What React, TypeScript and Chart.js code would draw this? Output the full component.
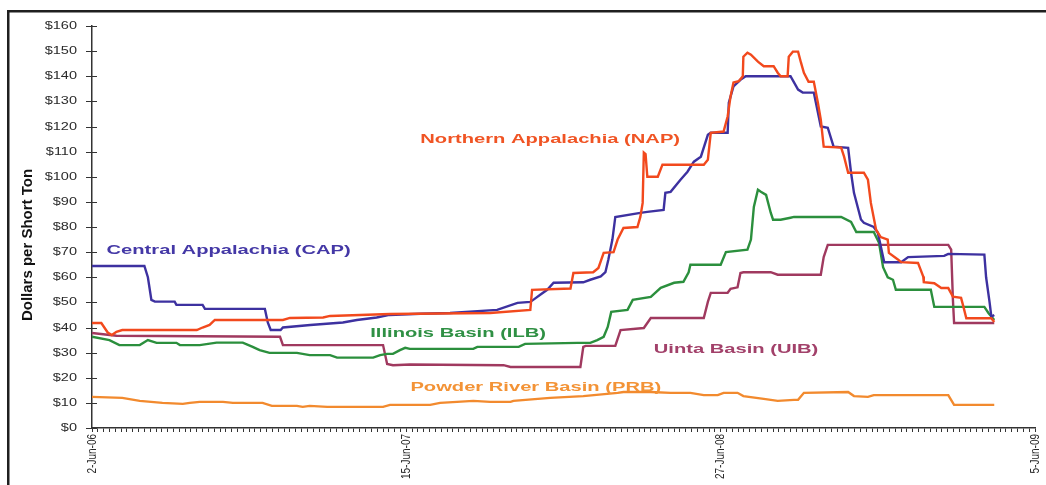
import React, { useEffect, useRef } from "react";
import { Chart, registerables } from "chart.js";

Chart.register(...registerables);

// ---- axis labels ----
const xTickLabels = ["2-Jun-06", "15-Jun-07", "27-Jun-08", "5-Jun-09"];
const xTickWeeks = [0, 54, 108, 162];
const xWeekCount = 163;
const yTickValues = [0, 10, 20, 30, 40, 50, 60, 70, 80, 90, 100, 110, 120, 130, 140, 150, 160];
const yTickLabels = ["$0", "$10", "$20", "$30", "$40", "$50", "$60", "$70", "$80", "$90", "$100", "$110", "$120", "$130", "$140", "$150", "$160"];
const yAxisTitle = "Dollars per Short Ton";

// ---- series (x = weeks since 2-Jun-06, y = $/short ton) ----
const capX = [0, 9.0, 9.6, 10.2, 10.8, 14.2, 14.5, 19.0, 19.4, 29.7, 30.2, 30.7, 32.4, 32.8, 37.5, 43.1, 45.5, 48.9, 51.1, 56.4, 61.5, 69.6, 73.1, 75.3, 75.8, 77.0, 78.2, 79.3, 84.4, 85.6, 87.4, 88.2, 88.7, 89.4, 89.9, 94.2, 95.4, 98.2, 98.5, 99.4, 101.1, 102.3, 103.4, 104.6, 105.8, 106.3, 109.2, 109.4, 110.2, 111.4, 112.3, 120.0, 121.3, 122.1, 124.0, 125.2, 126.4, 127.4, 129.9, 130.4, 130.9, 132.1, 132.6, 134.3, 135.0, 136.1, 139.0, 140.2, 146.4, 147.1, 153.3, 153.6, 154.2, 154.5, 155.0];
const capY = [64.5, 64.5, 60, 51, 50.3, 50.3, 49, 49, 47.4, 47.4, 42, 39, 39, 40, 41, 42, 43, 44, 45, 45.5, 45.8, 47, 49.8, 50.2, 51, 53, 55, 57.8, 58, 59, 60.3, 62, 67, 75, 84, 85.6, 86, 86.8, 93.6, 94, 98.8, 102, 106, 108, 116.7, 117.5, 117.5, 129.5, 136, 138.6, 140, 140, 134.7, 133.5, 133.5, 120, 119.5, 112, 111.5, 101.6, 93.6, 83, 81.7, 80, 77.7, 66, 66, 68, 68.5, 69.3, 69, 60, 50, 44.3, 45];

const napX = [0, 1.6, 2.7, 3.4, 4.2, 5.2, 18.0, 19.0, 20.2, 21.1, 32.8, 34.0, 39.7, 40.9, 51.2, 68.4, 75.3, 75.6, 82.2, 82.7, 86.1, 87.0, 87.9, 89.6, 90.3, 91.3, 93.7, 94.2, 94.6, 94.8, 95.1, 95.4, 97.2, 98.0, 105.1, 105.8, 106.3, 108.5, 109.2, 109.7, 110.2, 111.1, 111.8, 111.9, 112.6, 113.2, 114.4, 115.4, 117.1, 117.8, 118.3, 119.5, 119.7, 120.4, 121.3, 121.8, 122.3, 123.1, 124.0, 124.7, 125.2, 125.7, 128.7, 129.2, 129.9, 132.6, 133.3, 133.8, 134.7, 135.5, 136.7, 136.9, 138.5, 139.0, 141.9, 142.8, 142.9, 144.7, 145.9, 147.1, 147.9, 149.3, 149.7, 150.2, 154.5, 155.0];
const napY = [41.8, 41.8, 38, 37, 38.3, 39, 39, 40, 41, 43, 43, 43.8, 44, 44.6, 45.4, 45.8, 47, 55, 55.5, 61.7, 62, 63.7, 69.7, 70, 75, 79.6, 80, 84, 89.6, 109.6, 109, 100, 100, 104.8, 104.8, 106.8, 117.5, 118, 124, 132, 137.5, 138, 140, 147.8, 149.4, 148.6, 145.8, 144, 144, 141.4, 140, 140, 147.8, 149.8, 149.8, 145.4, 141.4, 137.8, 137.8, 129.5, 122.7, 112, 111.6, 108, 101.6, 101.6, 98.8, 89.6, 78.9, 76, 75, 69.7, 67, 66, 65.7, 60.3, 58, 57.6, 55.7, 55.7, 52.3, 51.8, 48.3, 43.7, 43.7, 42.2];

const ilbX = [0, 3.0, 4.7, 8.2, 9.6, 11.1, 14.5, 15.1, 18.5, 21.4, 25.9, 27.6, 28.8, 30.5, 35.2, 37.4, 40.9, 42.1, 48.3, 49.5, 50.7, 51.7, 52.9, 53.8, 54.6, 65.5, 66.2, 73.3, 74.4, 83.4, 85.6, 86.8, 87.9, 88.6, 89.2, 92.0, 92.9, 96.0, 97.7, 100.0, 101.6, 102.5, 102.8, 108.0, 108.9, 112.6, 113.2, 113.7, 114.4, 114.9, 115.8, 116.6, 117.0, 118.3, 120.0, 120.6, 128.7, 130.4, 131.3, 134.3, 135.2, 135.9, 136.7, 137.6, 138.1, 144.1, 144.7, 153.3, 154.0, 155.0];
const ilbY = [36.3, 35, 33, 33, 35, 33.9, 33.9, 33, 33, 34, 34, 32.3, 31, 29.9, 29.9, 29, 29, 28, 28, 29, 29.5, 29.5, 31, 31.9, 31.5, 31.5, 32.3, 32.3, 33.5, 33.9, 33.9, 35, 36.3, 40.2, 46.2, 47, 51, 52.2, 55.8, 57.8, 58.2, 62, 65, 65, 70, 71, 75, 88, 94.8, 94, 92.8, 85.7, 82.9, 82.9, 83.7, 84, 84, 82, 78, 78, 73.7, 64, 60, 59, 55, 55, 48.2, 48.2, 45.8, 43];

const uibX = [0, 4.2, 32.3, 32.8, 50.0, 50.7, 51.7, 54.6, 70.7, 71.9, 83.9, 84.4, 84.8, 89.9, 90.8, 94.8, 96.0, 105.1, 105.8, 106.3, 109.2, 109.7, 110.9, 111.4, 111.9, 116.6, 117.8, 125.2, 125.7, 126.4, 147.1, 147.6, 147.9, 148.1, 155.0];
const uibY = [37.8, 36.7, 36.3, 33, 33, 25.5, 25, 25.3, 25, 24.3, 24.3, 32.3, 32.7, 32.7, 39, 39.8, 43.8, 43.8, 50.2, 53.8, 53.8, 55.4, 56, 61.7, 62, 62, 61, 61, 68, 72.9, 72.9, 71, 51, 41.8, 41.8];

const prbX = [0, 5.2, 8.2, 12.1, 15.6, 16.8, 18.5, 22.5, 24.2, 29.3, 30.9, 35.2, 36.2, 37.4, 40.4, 50.0, 51.2, 58.1, 59.8, 62.7, 65.5, 68.4, 71.9, 72.4, 78.7, 84.4, 90.3, 91.3, 96.0, 99.4, 102.8, 105.1, 107.5, 108.5, 110.9, 111.9, 115.4, 117.8, 120.6, 121.3, 122.3, 129.9, 130.9, 133.3, 134.3, 147.1, 148.1, 155.0];
const prbY = [12.4, 12, 10.8, 10, 9.6, 10, 10.4, 10.4, 10, 10, 8.8, 8.8, 8.4, 8.8, 8.4, 8.4, 9.2, 9.2, 10, 10.4, 10.8, 10.4, 10.4, 10.8, 12, 12.7, 14, 14.3, 14.3, 14, 14, 13.1, 13.1, 14, 14, 12.7, 11.6, 10.8, 11.2, 11.2, 14, 14.3, 12.7, 12.4, 13.1, 13.1, 9.2, 9.2];

const seriesNames = ["Northern Appalachia (NAP)", "Central Appalachia (CAP)", "Illinois Basin (ILB)", "Uinta Basin (UIB)", "Powder River Basin (PRB)"];

// ---- styling ----
const seriesColors = ["#f2491d", "#3d31a0", "#2b8f3d", "#a0395f", "#f28a2e"];
const labelColors = ["#f05424", "#4438a6", "#2f9044", "#a2416a", "#f39336"];
// label anchors (left-middle) in data units: [week, dollars]
const labelAnchors = [
  [56.4, 114.7],
  [2.5, 70.5],
  [47.8, 37.5],
  [96.5, 31.1],
  [54.7, 16.3],
];

const FONT = '"Liberation Sans", Arial, Helvetica, sans-serif';

const decorPlugin = {
  id: "decor",
  beforeDraw(chart: any) {
    const ctx = chart.ctx;
    ctx.save();
    ctx.fillStyle = "#ffffff";
    ctx.fillRect(0, 0, chart.width, chart.height);
    ctx.fillStyle = "#1f1f1f";
    ctx.fillRect(7, 10, chart.width - 7, 2.5);
    ctx.fillRect(7, 10, 2.5, chart.height - 10);
    ctx.restore();
  },
  afterDraw(chart: any) {
    const ctx = chart.ctx;
    const x = chart.scales.x;
    const y = chart.scales.y;
    ctx.save();
    // y ticks (cross) and labels
    ctx.strokeStyle = "#333";
    ctx.lineWidth = 1;
    yTickValues.forEach((v, i) => {
      const py = Math.round(y.getPixelForValue(v)) + 0.5;
      ctx.beginPath();
      ctx.moveTo(x.left - 6, py);
      ctx.lineTo(x.left + 5, py);
      ctx.stroke();
      ctx.save();
      ctx.translate(x.left - 15, py);
      ctx.scale(1.45, 1);
      ctx.font = "10px " + FONT;
      ctx.textAlign = "right";
      ctx.textBaseline = "middle";
      ctx.fillStyle = "#2a2a2a";
      ctx.fillText(yTickLabels[i], 0, 0);
      ctx.restore();
    });
    // x tick labels (rotated, reading upward)
    xTickWeeks.forEach((w, i) => {
      const px = x.getPixelForValue(w);
      ctx.save();
      ctx.translate(px, y.bottom + 6);
      ctx.rotate(-Math.PI / 2);
      ctx.scale(1, 1.35);
      ctx.font = "10px " + FONT;
      ctx.textAlign = "right";
      ctx.textBaseline = "middle";
      ctx.fillStyle = "#2a2a2a";
      ctx.fillText(xTickLabels[i], 0, 0);
      ctx.restore();
    });
    // y axis title
    ctx.save();
    ctx.translate(28, 245);
    ctx.rotate(-Math.PI / 2);
    ctx.font = "bold 15px " + FONT;
    ctx.textAlign = "center";
    ctx.textBaseline = "middle";
    ctx.fillStyle = "#111";
    ctx.fillText(yAxisTitle, 0, 0);
    ctx.restore();
    // series labels
    seriesNames.forEach((name, i) => {
      const px = x.getPixelForValue(labelAnchors[i][0]);
      const py = y.getPixelForValue(labelAnchors[i][1]);
      ctx.save();
      ctx.translate(px, py);
      ctx.scale(1.55, 1);
      ctx.font = "bold 13px " + FONT;
      ctx.textAlign = "left";
      ctx.textBaseline = "middle";
      ctx.fillStyle = labelColors[i];
      ctx.fillText(name, 0, 0);
      ctx.restore();
    });
    ctx.restore();
  },
};

const toPoints = (xs: number[], ys: number[]) => xs.map((v, i) => ({ x: v, y: ys[i] }));

export default function App() {
  const ref = useRef<HTMLCanvasElement>(null);
  useEffect(() => {
    const seriesData = [
      toPoints(napX, napY),
      toPoints(capX, capY),
      toPoints(ilbX, ilbY),
      toPoints(uibX, uibY),
      toPoints(prbX, prbY),
    ];
    const chart = new Chart(ref.current as HTMLCanvasElement, {
      type: "line",
      data: {
        datasets: seriesNames.map((name, i) => ({
          label: name,
          data: seriesData[i],
          borderColor: seriesColors[i],
          backgroundColor: seriesColors[i],
          borderWidth: 2.4,
          pointRadius: 0,
          tension: 0,
          fill: false,
        })),
      },
      options: {
        responsive: false,
        devicePixelRatio: 1,
        animation: false,
        layout: { padding: { top: 26, right: 11, left: 0, bottom: 0 } },
        plugins: {
          legend: { display: false },
          tooltip: { enabled: false },
        },
        scales: {
          x: {
            type: "linear",
            min: 0,
            max: xWeekCount - 1,
            afterBuildTicks: (s: any) => {
              s.ticks = Array.from({ length: xWeekCount }, (_, i) => ({ value: i }));
            },
            afterFit: (s: any) => {
              s.height = 57;
            },
            ticks: {
              display: false,
              autoSkip: false,
            },
            grid: {
              display: true,
              drawOnChartArea: false,
              drawTicks: true,
              tickLength: 4,
              color: "#333",
              lineWidth: 1,
            },
            border: { display: true, color: "#333", width: 1.5 },
          },
          y: {
            type: "linear",
            min: 0,
            max: 160,
            afterFit: (s: any) => {
              s.width = 92;
            },
            ticks: { display: false, stepSize: 10 },
            grid: { display: true, drawOnChartArea: false, drawTicks: false },
            border: { display: true, color: "#333", width: 1.5 },
          },
        },
      },
      plugins: [decorPlugin],
    } as any);
    return () => chart.destroy();
  }, []);
  return (
    <div style={{ position: "fixed", left: 0, top: 0, width: 1046, height: 485, background: "#fff" }}>
      <canvas ref={ref} width={1046} height={485} style={{ display: "block", width: 1046, height: 485 }} />
    </div>
  );
}
